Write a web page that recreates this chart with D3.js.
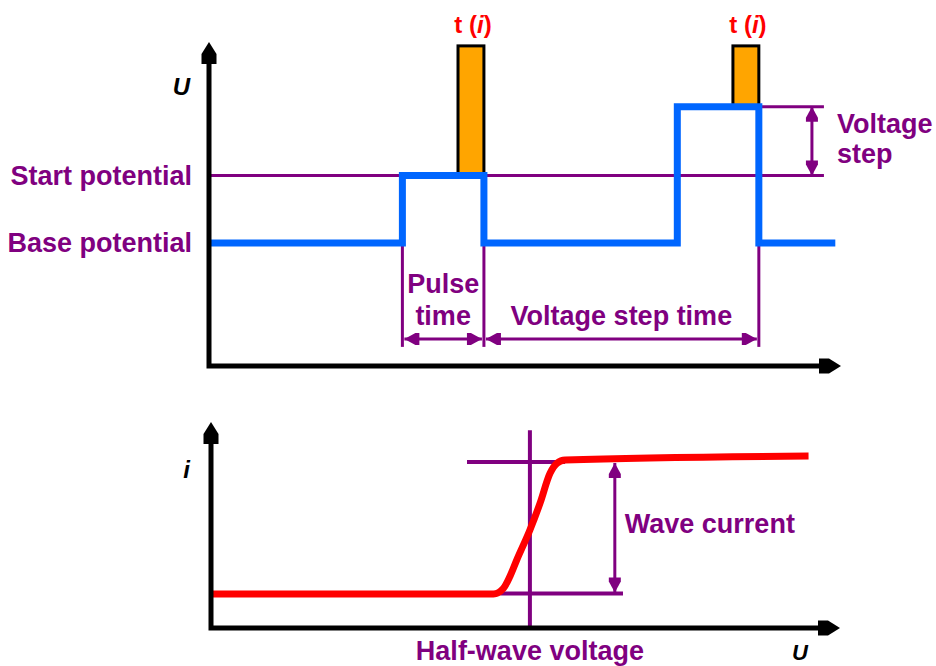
<!DOCTYPE html>
<html>
<head>
<meta charset="utf-8">
<script src="https://cdn.jsdelivr.net/npm/d3@7"></script>
<style>
  body { margin: 0; background: #fff; }
  svg text { font-family: "Liberation Sans", Arial, sans-serif; font-weight: bold; }
</style>
</head>
<body>
<svg width="936" height="666"></svg>
<script>
// ---- top panel: pulse waveform (time 0..100, potential 0..10) ----
var levelNames = ["Base potential", "Start potential"];
var levelValues = [3.8, 5.88];
var stepLevel = 8.0;

var waveTimes = [0, 30.6, 30.6, 43.5, 43.5, 74.1, 74.1, 87.0, 87.0, 99.1];
var waveU     = [3.8, 3.8, 5.88, 5.88, 3.8, 3.8, 8.0, 8.0, 3.8, 3.8];

var sampleStart = [39.4, 82.9];
var sampleEnd   = [43.5, 87.0];
var sampleBase  = [5.88, 8.0];
var sampleTop   = 9.88;

var pulseEdges = [30.6, 43.5, 87.0];
var refLineEnd = 97.3;
var stepArrowT = 95.4;
var dimArrowU = 0.83, dimTickU = 0.59;

// ---- bottom panel: polarogram (U 0..100, i 0..10) ----
var curveU = [0, 44.9, 46.5, 47.5, 48.6, 50.7, 52.3, 53.9, 55.0, 56.3, 95.0];
var curveI = [1.65, 1.65, 1.93, 2.49, 3.30, 4.76, 6.05, 7.51, 8.00, 8.16, 8.35];
var halfWaveU = 50.7;
var waveTop = 8.06, waveBottom = 1.68;
var waveArrowU = 64.2;


var purple = "#800080", blue = "#0066ff", red = "#ff0000", orange = "#ffa500";
var fs = 27;
var svg = d3.select("svg");
var defs = svg.append("defs");

// black axis arrow head (tip lies 12px beyond path end)
defs.append("marker")
    .attr("id", "axisArrow")
    .attr("viewBox", "-24 -10 26 20")
    .attr("markerUnits", "userSpaceOnUse")
    .attr("markerWidth", 26).attr("markerHeight", 20)
    .attr("refX", -12).attr("refY", 0)
    .attr("orient", "auto-start-reverse")
    .append("path")
    .attr("d", "M0,0 L-12,-7.5 L-22,-7.5 L-22,7.5 L-12,7.5 Z")
    .attr("fill", "#000");

defs.append("marker")
    .attr("id", "dimArrow")
    .attr("viewBox", "-17 -8 18 16")
    .attr("markerUnits", "userSpaceOnUse")
    .attr("markerWidth", 18).attr("markerHeight", 16)
    .attr("refX", 0).attr("refY", 0)
    .attr("orient", "auto-start-reverse")
    .append("path")
    .attr("d", "M0,0 L-11,-6 L-15,-6 L-15,6 L-11,6 Z")
    .attr("fill", purple);

// ================= TOP =================
var xT = d3.scaleLinear().domain([0, 100]).range([209, 841]);
var yT = d3.scaleLinear().domain([0, 10]).range([366, 42]);

var topG = svg.append("g");

// reference lines
topG.append("line")
    .attr("x1", xT(0)).attr("x2", xT(refLineEnd))
    .attr("y1", yT(levelValues[1])).attr("y2", yT(levelValues[1]))
    .attr("stroke", purple).attr("stroke-width", 3);
topG.append("line")
    .attr("x1", xT(sampleEnd[1])).attr("x2", xT(refLineEnd))
    .attr("y1", yT(stepLevel)).attr("y2", yT(stepLevel))
    .attr("stroke", purple).attr("stroke-width", 3);

// voltage step arrow
topG.append("line")
    .attr("x1", xT(stepArrowT)).attr("x2", xT(stepArrowT))
    .attr("y1", yT(levelValues[1])).attr("y2", yT(stepLevel))
    .attr("stroke", purple).attr("stroke-width", 3)
    .attr("marker-start", "url(#dimArrow)")
    .attr("marker-end", "url(#dimArrow)");

var stepMid = yT((levelValues[1] + stepLevel) / 2);
topG.append("text").attr("x", xT(stepArrowT) + 25).attr("y", stepMid - 8)
    .attr("font-size", fs).attr("fill", purple).text("Voltage");
topG.append("text").attr("x", xT(stepArrowT) + 25).attr("y", stepMid + 22)
    .attr("font-size", fs).attr("fill", purple).text("step");

// time dimension lines
topG.selectAll(".edge").data(pulseEdges).enter().append("line")
    .attr("x1", function (d) { return xT(d); })
    .attr("x2", function (d) { return xT(d); })
    .attr("y1", yT(levelValues[0]))
    .attr("y2", yT(dimTickU))
    .attr("stroke", purple).attr("stroke-width", 3);

var spans = [[pulseEdges[0], pulseEdges[1]], [pulseEdges[1], pulseEdges[2]]];
topG.selectAll(".span").data(spans).enter().append("line")
    .attr("x1", function (d) { return xT(d[0]) + 2; })
    .attr("x2", function (d) { return xT(d[1]) - 2; })
    .attr("y1", yT(dimArrowU)).attr("y2", yT(dimArrowU))
    .attr("stroke", purple).attr("stroke-width", 3)
    .attr("marker-start", "url(#dimArrow)")
    .attr("marker-end", "url(#dimArrow)");

var pulseMid = xT((spans[0][0] + spans[0][1]) / 2);
topG.append("text").attr("x", pulseMid).attr("y", yT(dimArrowU) - 46)
    .attr("text-anchor", "middle").attr("font-size", fs).attr("fill", purple).text("Pulse");
topG.append("text").attr("x", pulseMid).attr("y", yT(dimArrowU) - 14)
    .attr("text-anchor", "middle").attr("font-size", fs).attr("fill", purple).text("time");
topG.append("text").attr("x", xT((spans[1][0] + spans[1][1]) / 2)).attr("y", yT(dimArrowU) - 14)
    .attr("text-anchor", "middle").attr("font-size", fs).attr("fill", purple).text("Voltage step time");

// sampling bars
var samples = sampleStart.map(function (s, i) { return { s: s, e: sampleEnd[i], b: sampleBase[i] }; });
topG.selectAll(".sample").data(samples).enter().append("rect")
    .attr("x", function (d) { return xT(d.s); })
    .attr("width", function (d) { return xT(d.e) - xT(d.s); })
    .attr("y", yT(sampleTop))
    .attr("height", function (d) { return yT(d.b) - yT(sampleTop); })
    .attr("fill", orange).attr("stroke", "#000").attr("stroke-width", 3);

var tl = topG.selectAll(".tlab").data(samples).enter().append("text")
    .attr("x", function (d) { return xT((d.s + d.e) / 2) + 2; })
    .attr("y", yT(sampleTop) - 13)
    .attr("text-anchor", "middle").attr("font-size", 24).attr("fill", red);
tl.append("tspan").text("t (");
tl.append("tspan").attr("font-style", "italic").text("i");
tl.append("tspan").text(")");

// blue waveform
var wave = waveTimes.map(function (t, i) { return [t, waveU[i]]; });
topG.append("path")
    .datum(wave)
    .attr("d", d3.line().x(function (d) { return xT(d[0]); }).y(function (d) { return yT(d[1]); }))
    .attr("fill", "none").attr("stroke", blue).attr("stroke-width", 7)
    .attr("stroke-linejoin", "miter").attr("stroke-linecap", "butt");

// level labels as left axis ticks
var yAxis = d3.axisLeft(yT)
    .tickValues(levelValues)
    .tickFormat(function (d, i) { return levelNames[i]; })
    .tickSize(0).tickPadding(17);
var ya = topG.append("g").attr("transform", "translate(" + xT(0) + ",0)").call(yAxis);
ya.select(".domain").remove();
ya.attr("font-size", fs).attr("font-family", null).attr("color", purple);

// axes
topG.append("path")
    .attr("d", "M" + xT(0) + "," + (yT(10) + 12) + "L" + xT(0) + "," + yT(0) + "L" + (xT(100) - 12) + "," + yT(0))
    .attr("fill", "none").attr("stroke", "#000").attr("stroke-width", 5)
    .attr("stroke-linejoin", "miter")
    .attr("marker-start", "url(#axisArrow)")
    .attr("marker-end", "url(#axisArrow)");
topG.append("text").attr("x", xT(0) - 19).attr("y", yT(10) + 53)
    .attr("text-anchor", "end").attr("font-size", 24).attr("font-style", "italic").text("U");

// ================= BOTTOM =================
var xB = d3.scaleLinear().domain([0, 100]).range([211, 840]);
var yB = d3.scaleLinear().domain([0, 10]).range([628, 422]);
var botG = svg.append("g");

botG.append("line")
    .attr("x1", xB(halfWaveU)).attr("x2", xB(halfWaveU))
    .attr("y1", yB(0)).attr("y2", yB(9.6))
    .attr("stroke", purple).attr("stroke-width", 4);
botG.append("line")
    .attr("x1", xB(40.7)).attr("x2", xB(56.3))
    .attr("y1", yB(waveTop)).attr("y2", yB(waveTop))
    .attr("stroke", purple).attr("stroke-width", 4);
botG.append("line")
    .attr("x1", xB(46.0)).attr("x2", xB(65.5))
    .attr("y1", yB(waveBottom)).attr("y2", yB(waveBottom))
    .attr("stroke", purple).attr("stroke-width", 4);
botG.append("line")
    .attr("x1", xB(waveArrowU)).attr("x2", xB(waveArrowU))
    .attr("y1", yB(waveTop) + 1).attr("y2", yB(waveBottom) - 1)
    .attr("stroke", purple).attr("stroke-width", 3)
    .attr("marker-start", "url(#dimArrow)")
    .attr("marker-end", "url(#dimArrow)");
botG.append("text").attr("x", xB(waveArrowU) + 10).attr("y", yB((waveTop + waveBottom) / 2) + 5)
    .attr("font-size", fs).attr("fill", purple).text("Wave current");

var curve = curveU.map(function (u, i) { return [u, curveI[i]]; });
botG.append("path")
    .datum(curve)
    .attr("d", d3.line().curve(d3.curveMonotoneX)
        .x(function (d) { return xB(d[0]); }).y(function (d) { return yB(d[1]); }))
    .attr("fill", "none").attr("stroke", red).attr("stroke-width", 7);

botG.append("path")
    .attr("d", "M" + xB(0) + "," + (yB(10) + 12) + "L" + xB(0) + "," + yB(0) + "L" + (xB(100) - 12) + "," + yB(0))
    .attr("fill", "none").attr("stroke", "#000").attr("stroke-width", 5)
    .attr("stroke-linejoin", "miter")
    .attr("marker-start", "url(#axisArrow)")
    .attr("marker-end", "url(#axisArrow)");

botG.append("text").attr("x", xB(0) - 21).attr("y", 478)
    .attr("text-anchor", "end").attr("font-size", 24).attr("font-style", "italic").text("i");
botG.append("text").attr("x", 792).attr("y", 660)
    .attr("font-size", 22).attr("font-style", "italic").text("U");
botG.append("text").attr("x", xB(halfWaveU)).attr("y", 660)
    .attr("text-anchor", "middle").attr("font-size", fs).attr("fill", purple).text("Half-wave voltage");
</script>
</body>
</html>
